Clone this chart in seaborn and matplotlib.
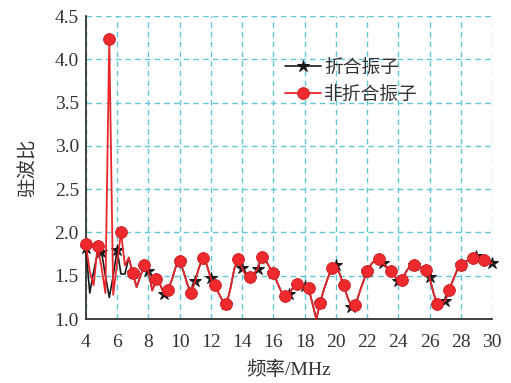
import numpy as np
import pandas as pd
import matplotlib
matplotlib.use("Agg")
import matplotlib.pyplot as plt
from matplotlib.ticker import FormatStrFormatter
import seaborn as sns

# ---- data ----
freq = np.arange(4.0, 30.001, 0.25)  # MHz sampling grid

folded_vswr = [
    1.82, 1.30, 1.55, 1.76, 1.78, 1.50, 1.25, 1.50, 1.80, 1.52, 1.52, 1.71, 1.53,
    1.37, 1.50, 1.63, 1.55, 1.33, 1.46, 1.40, 1.29, 1.33, 1.45, 1.60,
    1.67, 1.55, 1.40, 1.30, 1.44, 1.60, 1.70, 1.62, 1.47, 1.39, 1.30, 1.21,
    1.17, 1.35, 1.58, 1.69, 1.59, 1.50, 1.48, 1.52, 1.58, 1.72, 1.68, 1.60,
    1.53, 1.42, 1.32, 1.27, 1.29, 1.36, 1.41, 1.40, 1.38, 1.36, 1.18, 1.00,
    1.19, 1.35, 1.48, 1.59, 1.62, 1.52, 1.39, 1.25, 1.14, 1.16, 1.30, 1.43,
    1.55, 1.63, 1.68, 1.69, 1.65, 1.60, 1.55, 1.50, 1.44, 1.45, 1.55, 1.61,
    1.63, 1.61, 1.59, 1.57, 1.48, 1.30, 1.17, 1.18, 1.21, 1.34, 1.45, 1.56,
    1.63, 1.66, 1.68, 1.70, 1.73, 1.70, 1.68, 1.66, 1.645,
]

unfolded_vswr = [
    1.87, 1.55, 1.39, 1.84, 1.60, 1.30, 4.24, 1.28, 1.65, 2.00, 1.62, 1.71, 1.53,
    1.37, 1.50, 1.63, 1.55, 1.33, 1.46, 1.40, 1.29, 1.33, 1.45, 1.60,
    1.67, 1.55, 1.40, 1.30, 1.44, 1.60, 1.70, 1.62, 1.47, 1.39, 1.30, 1.21,
    1.17, 1.35, 1.58, 1.69, 1.59, 1.50, 1.48, 1.52, 1.58, 1.72, 1.68, 1.60,
    1.53, 1.42, 1.32, 1.27, 1.29, 1.36, 1.41, 1.40, 1.38, 1.36, 1.18, 1.00,
    1.19, 1.35, 1.48, 1.59, 1.62, 1.52, 1.39, 1.25, 1.14, 1.16, 1.30, 1.43,
    1.55, 1.63, 1.68, 1.69, 1.65, 1.60, 1.55, 1.50, 1.44, 1.45, 1.55, 1.61,
    1.63, 1.61, 1.59, 1.57, 1.48, 1.30, 1.17, 1.18, 1.21, 1.34, 1.45, 1.56,
    1.63, 1.66, 1.68, 1.70, 1.72, 1.70, 1.68, 1.66, 1.645,
]

series_names = ["折合振子", "非折合振子"]
x_ticks = [4, 6, 8, 10, 12, 14, 16, 18, 20, 22, 24, 26, 28, 30]
y_ticks = [1.0, 1.5, 2.0, 2.5, 3.0, 3.5, 4.0, 4.5]

df_folded = pd.DataFrame({"freq": freq, "vswr": folded_vswr})
df_unfolded = pd.DataFrame({"freq": freq, "vswr": unfolded_vswr})

# ---- style ----
sns.set_theme(style="white")
plt.rcParams["font.family"] = ["Liberation Serif", "Noto Sans CJK SC", "DejaVu Sans"]

fig = plt.figure(figsize=(5.11, 3.83), dpi=100)
ax = fig.add_axes([0.168, 0.167, 0.795, 0.791])

sns.lineplot(data=df_folded, x="freq", y="vswr", ax=ax, sort=False,
             color="#1a1a1a", linewidth=1.2, marker="*", markersize=9,
             markevery=4, markeredgecolor="#1a1a1a", markerfacecolor="#1a1a1a",
             label=series_names[0], clip_on=False, zorder=3)
sns.lineplot(data=df_unfolded, x="freq", y="vswr", ax=ax, sort=False,
             color="#e8262b", linewidth=1.3, marker="o", markersize=8.5,
             markevery=3, markeredgecolor="#c81a1f", markeredgewidth=0.6,
             markerfacecolor="#ee2a2e",
             label=series_names[1], clip_on=False, zorder=4)

ax.set_xlim(4, 30)
ax.set_ylim(1.0, 4.5)
ax.set_xticks(x_ticks)
ax.set_yticks(y_ticks)
ax.yaxis.set_major_formatter(FormatStrFormatter("%.1f"))

ax.grid(True, color="#62c6d6", linestyle=(0, (4, 3)), linewidth=1.0)
ax.set_axisbelow(True)

for side in ["top", "right"]:
    ax.spines[side].set_visible(False)
for side in ["left", "bottom"]:
    ax.spines[side].set_color("#333333")
    ax.spines[side].set_linewidth(1.3)

ax.tick_params(axis="both", direction="in", length=5, width=1.2,
               color="#333333", labelsize=14, labelcolor="#333333", pad=5)
ax.tick_params(axis="x", pad=11)

ax.set_xlabel("频率/MHz", fontsize=14, color="#333333", labelpad=7)
ax.set_ylabel("驻波比", fontsize=14, color="#333333", labelpad=12)

leg = ax.legend(loc="center left", bbox_to_anchor=(0.49, 0.784), frameon=False,
                fontsize=13.5, borderpad=0, borderaxespad=0, handlelength=1.9,
                handletextpad=0.2, labelspacing=0.55)
for t in leg.get_texts():
    t.set_color("#333333")

fig.savefig("out.png", dpi=100)
